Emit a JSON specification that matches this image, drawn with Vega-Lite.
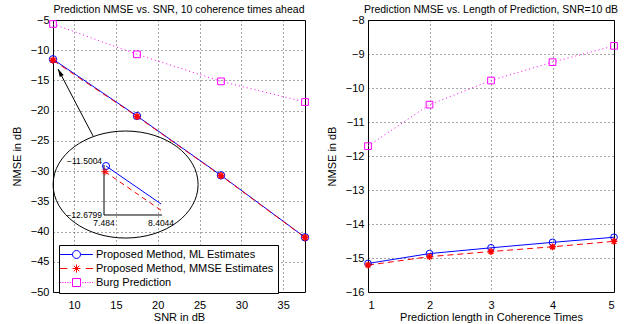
{
  "$schema": "https://vega.github.io/schema/vega-lite/v6.json",
  "padding": {"left": 10, "top": 4, "right": 5, "bottom": 2},
  "spacing": 12,
  "config": {
    "font": "Liberation Sans",
    "view": {"stroke": "black", "strokeWidth": 1},
    "axis": {
      "grid": true, "gridColor": "black", "gridDash": [1, 3], "gridOpacity": 0.7,
      "domain": false, "ticks": false,
      "labelColor": "black", "labelFontSize": 11, "labelPadding": 4,
      "labelExpr": "datum.value < 0 ? '−' + abs(datum.value) : datum.label",
      "titleFontSize": 11, "titleFontWeight": "normal", "titleColor": "black", "titlePadding": 8
    },
    "axisX": {"titlePadding": 1, "labelPadding": 7},
    "title": {"fontSize": 10.5, "fontWeight": "normal", "color": "black", "offset": -1}
  },
  "datasets": {
    "left": [
      {"snr": 7.484, "nmse": -11.5004, "series": "Proposed Method, ML Estimates"},
      {"snr": 17.52, "nmse": -20.88, "series": "Proposed Method, ML Estimates"},
      {"snr": 27.56, "nmse": -30.7, "series": "Proposed Method, ML Estimates"},
      {"snr": 37.6, "nmse": -40.95, "series": "Proposed Method, ML Estimates"},
      {"snr": 7.484, "nmse": -11.67, "series": "Proposed Method, MMSE Estimates"},
      {"snr": 17.52, "nmse": -20.95, "series": "Proposed Method, MMSE Estimates"},
      {"snr": 27.56, "nmse": -30.75, "series": "Proposed Method, MMSE Estimates"},
      {"snr": 37.6, "nmse": -41.0, "series": "Proposed Method, MMSE Estimates"},
      {"snr": 7.484, "nmse": -5.66, "series": "Burg Prediction"},
      {"snr": 17.52, "nmse": -10.68, "series": "Burg Prediction"},
      {"snr": 27.56, "nmse": -15.15, "series": "Burg Prediction"},
      {"snr": 37.6, "nmse": -18.57, "series": "Burg Prediction"}
    ],
    "right": [
      {"len": 1, "nmse": -15.16, "series": "Proposed Method, ML Estimates"},
      {"len": 2, "nmse": -14.87, "series": "Proposed Method, ML Estimates"},
      {"len": 3, "nmse": -14.70, "series": "Proposed Method, ML Estimates"},
      {"len": 4, "nmse": -14.54, "series": "Proposed Method, ML Estimates"},
      {"len": 5, "nmse": -14.39, "series": "Proposed Method, ML Estimates"},
      {"len": 1, "nmse": -15.21, "series": "Proposed Method, MMSE Estimates"},
      {"len": 2, "nmse": -14.96, "series": "Proposed Method, MMSE Estimates"},
      {"len": 3, "nmse": -14.81, "series": "Proposed Method, MMSE Estimates"},
      {"len": 4, "nmse": -14.67, "series": "Proposed Method, MMSE Estimates"},
      {"len": 5, "nmse": -14.51, "series": "Proposed Method, MMSE Estimates"},
      {"len": 1, "nmse": -11.71, "series": "Burg Prediction"},
      {"len": 2, "nmse": -10.49, "series": "Burg Prediction"},
      {"len": 3, "nmse": -9.78, "series": "Burg Prediction"},
      {"len": 4, "nmse": -9.24, "series": "Burg Prediction"},
      {"len": 5, "nmse": -8.76, "series": "Burg Prediction"}
    ],
    "ellipse": [{"x": 16.16, "y": -32.22}],
    "arrow": [{"x": 12.27, "y": -24.19, "x2": 8.08, "y2": -13.1}],
    "insetAxes": [
      {"x": 13.58, "y": -28.99, "x2": 13.58, "y2": -37.26},
      {"x": 13.58, "y": -37.26, "x2": 20.52, "y2": -37.26}
    ],
    "insetML": [{"x": 13.82, "y": -29.16, "x2": 20.40, "y2": -35.44}],
    "insetMMSE": [{"x": 13.70, "y": -30.1, "x2": 20.52, "y2": -36.6}],
    "insetYLab": [
      {"x": 13.35, "y": -28.28, "label": "−11.5004"},
      {"x": 13.35, "y": -37.21, "label": "−12.6799"}
    ],
    "insetXLab": [
      {"x": 13.58, "y": -38.64, "label": "7.484"},
      {"x": 20.40, "y": -38.64, "label": "8.4044"}
    ]
  },
  "resolve": {"scale": {"color": "independent"}},
  "hconcat": [
    {
      "width": 252, "height": 272,
      "title": "Prediction NMSE vs. SNR, 10 coherence times ahead",
      "encoding": {
        "x": {"type": "quantitative", "scale": {"domain": [7.484, 37.6], "nice": false, "zero": false},
              "axis": {"values": [10, 15, 20, 25, 30, 35], "title": "SNR in dB"}},
        "y": {"type": "quantitative", "scale": {"domain": [-50, -5], "nice": false, "zero": false},
              "axis": {"values": [-50, -45, -40, -35, -30, -25, -20, -15, -10, -5], "title": "NMSE in dB"}}
      },
      "layer": [
        {
          "data": {"name": "ellipse"},
          "mark": {"type": "point", "filled": false, "stroke": "black", "strokeWidth": 1, "opacity": 1,
                   "shape": "M-1,0A1,0.738 0 1,0 1,0A1,0.738 0 1,0 -1,0", "size": 21025},
          "encoding": {"x": {"field": "x"}, "y": {"field": "y"}}
        },
        {
          "data": {"name": "arrow"},
          "mark": {"type": "rule", "color": "black", "strokeWidth": 1},
          "encoding": {"x": {"field": "x"}, "y": {"field": "y"}, "x2": {"field": "x2"}, "y2": {"field": "y2"}}
        },
        {
          "data": {"name": "arrow"},
          "mark": {"type": "point", "filled": true, "color": "black", "opacity": 1,
                   "shape": "M0,0L0.45,1.6L-0.45,1.6Z", "size": 100, "angle": 332},
          "encoding": {"x": {"field": "x2"}, "y": {"field": "y2"}}
        },
        {
          "data": {"name": "insetAxes"},
          "mark": {"type": "rule", "color": "black", "strokeWidth": 1},
          "encoding": {"x": {"field": "x"}, "y": {"field": "y"}, "x2": {"field": "x2"}, "y2": {"field": "y2"}}
        },
        {
          "data": {"name": "insetML"},
          "mark": {"type": "rule", "color": "#0000ff", "strokeWidth": 1},
          "encoding": {"x": {"field": "x"}, "y": {"field": "y"}, "x2": {"field": "x2"}, "y2": {"field": "y2"}}
        },
        {
          "data": {"name": "insetMMSE"},
          "mark": {"type": "rule", "color": "#ff0000", "strokeWidth": 1, "strokeDash": [5, 4]},
          "encoding": {"x": {"field": "x"}, "y": {"field": "y"}, "x2": {"field": "x2"}, "y2": {"field": "y2"}}
        },
        {
          "data": {"name": "insetML"},
          "mark": {"type": "point", "filled": false, "stroke": "#0000ff", "strokeWidth": 1, "opacity": 1, "size": 50, "shape": "circle"},
          "encoding": {"x": {"field": "x"}, "y": {"field": "y"}}
        },
        {
          "data": {"name": "insetMMSE"},
          "mark": {"type": "point", "filled": false, "stroke": "#ff0000", "strokeWidth": 1, "opacity": 1, "size": 50,
                   "shape": "M-1,0L1,0M0,-1L0,1M-0.7,-0.7L0.7,0.7M-0.7,0.7L0.7,-0.7"},
          "encoding": {"x": {"field": "x"}, "y": {"field": "y"}}
        },
        {
          "data": {"name": "insetYLab"},
          "mark": {"type": "text", "align": "right", "baseline": "middle", "fontSize": 8.5, "color": "black"},
          "encoding": {"x": {"field": "x"}, "y": {"field": "y"}, "text": {"field": "label"}}
        },
        {
          "data": {"name": "insetXLab"},
          "mark": {"type": "text", "align": "center", "baseline": "middle", "fontSize": 8.5, "color": "black"},
          "encoding": {"x": {"field": "x"}, "y": {"field": "y"}, "text": {"field": "label"}}
        },
        {
          "data": {"name": "left"},
          "transform": [{"filter": "datum.series == 'Proposed Method, ML Estimates'"}],
          "mark": {"type": "line", "strokeWidth": 1},
          "encoding": {
            "x": {"field": "snr"}, "y": {"field": "nmse"},
            "color": {"field": "series", "type": "nominal",
              "scale": {"domain": ["Proposed Method, ML Estimates", "Proposed Method, MMSE Estimates", "Burg Prediction"], "range": ["#0000ff", "#ff0000", "#ff00ff"]},
              "legend": {
                "title": null, "orient": "none", "legendX": 6, "legendY": 225,
                "strokeColor": "black", "fillColor": "white", "padding": 4,
                "labelFontSize": 11, "labelColor": "black", "labelLimit": 300,
                "symbolSize": 64, "symbolOffset": 8, "labelOffset": 14, "rowPadding": 1,
                "symbolStrokeWidth": 1, "symbolType": "circle",
                "encode": {"symbols": {"update": {
                  "shape": {"signal": "datum.index == 0 ? 'M-4.1,0L-1,0M1,0L4.1,0M1,0A1,1 0 1,1 -1,0A1,1 0 1,1 1,0' : datum.index == 1 ? 'M-4.1,0L-2.3,0M2.3,0L4.1,0M-1,0L1,0M0,-1L0,1M-0.7,-0.7L0.7,0.7M-0.7,0.7L0.7,-0.7' : 'M-4.1,0h0.25M-3.5,0h0.25M-2.9,0h0.25M-2.3,0h0.25M-1.7,0h0.25M1.5,0h0.25M2.1,0h0.25M2.7,0h0.25M3.3,0h0.25M3.9,0h0.25M-1,-1h2v2h-2z'"},
                  "fill": {"value": "transparent"},
                  "strokeDash": {"value": []},
                  "opacity": {"value": 1}
                }}}
              }}
          }
        },
        {
          "data": {"name": "left"},
          "transform": [{"filter": "datum.series == 'Proposed Method, MMSE Estimates'"}],
          "mark": {"type": "line", "strokeWidth": 1, "color": "#ff0000", "strokeDash": [6, 4]},
          "encoding": {"x": {"field": "snr"}, "y": {"field": "nmse"}}
        },
        {
          "data": {"name": "left"},
          "transform": [{"filter": "datum.series == 'Burg Prediction'"}],
          "mark": {"type": "line", "strokeWidth": 1, "color": "#ff00ff", "strokeDash": [1, 3]},
          "encoding": {"x": {"field": "snr"}, "y": {"field": "nmse"}}
        },
        {
          "data": {"name": "left"},
          "transform": [{"filter": "datum.series == 'Proposed Method, ML Estimates'"}],
          "mark": {"type": "point", "filled": false, "stroke": "#0000ff", "strokeWidth": 1, "opacity": 1, "size": 55, "shape": "circle"},
          "encoding": {"x": {"field": "snr"}, "y": {"field": "nmse"}}
        },
        {
          "data": {"name": "left"},
          "transform": [{"filter": "datum.series == 'Proposed Method, MMSE Estimates'"}],
          "mark": {"type": "point", "filled": false, "stroke": "#ff0000", "strokeWidth": 1.5, "opacity": 1, "size": 50,
                   "shape": "M-1,0L1,0M0,-1L0,1M-0.7,-0.7L0.7,0.7M-0.7,0.7L0.7,-0.7"},
          "encoding": {"x": {"field": "snr"}, "y": {"field": "nmse"}}
        },
        {
          "data": {"name": "left"},
          "transform": [{"filter": "datum.series == 'Burg Prediction'"}],
          "mark": {"type": "point", "filled": false, "stroke": "#ff00ff", "strokeWidth": 1, "opacity": 1, "size": 45, "shape": "square"},
          "encoding": {"x": {"field": "snr"}, "y": {"field": "nmse"}}
        }
      ]
    },
    {
      "width": 246, "height": 272,
      "title": "Prediction NMSE vs. Length of Prediction, SNR=10 dB",
      "data": {"name": "right"},
      "encoding": {
        "x": {"field": "len", "type": "quantitative", "scale": {"domain": [1, 5], "nice": false, "zero": false},
              "axis": {"values": [1, 2, 3, 4, 5], "title": "Prediction length in Coherence Times"}},
        "y": {"field": "nmse", "type": "quantitative", "scale": {"domain": [-16, -8], "nice": false, "zero": false},
              "axis": {"values": [-16, -15, -14, -13, -12, -11, -10, -9, -8], "title": "NMSE in dB"}}
      },
      "layer": [
        {
          "transform": [{"filter": "datum.series == 'Proposed Method, ML Estimates'"}],
          "mark": {"type": "line", "strokeWidth": 1, "color": "#0000ff"},
          "encoding": {}
        },
        {
          "transform": [{"filter": "datum.series == 'Proposed Method, MMSE Estimates'"}],
          "mark": {"type": "line", "strokeWidth": 1, "color": "#ff0000", "strokeDash": [6, 4]},
          "encoding": {}
        },
        {
          "transform": [{"filter": "datum.series == 'Burg Prediction'"}],
          "mark": {"type": "line", "strokeWidth": 1, "color": "#ff00ff", "strokeDash": [1, 3]},
          "encoding": {}
        },
        {
          "transform": [{"filter": "datum.series == 'Proposed Method, ML Estimates'"}],
          "mark": {"type": "point", "filled": false, "stroke": "#0000ff", "strokeWidth": 1, "opacity": 1, "size": 45, "shape": "circle"},
          "encoding": {}
        },
        {
          "transform": [{"filter": "datum.series == 'Proposed Method, MMSE Estimates'"}],
          "mark": {"type": "point", "filled": false, "stroke": "#ff0000", "strokeWidth": 1.5, "opacity": 1, "size": 45,
                   "shape": "M-1,0L1,0M0,-1L0,1M-0.7,-0.7L0.7,0.7M-0.7,0.7L0.7,-0.7"},
          "encoding": {}
        },
        {
          "transform": [{"filter": "datum.series == 'Burg Prediction'"}],
          "mark": {"type": "point", "filled": false, "stroke": "#ff00ff", "strokeWidth": 1, "opacity": 1, "size": 45, "shape": "square"},
          "encoding": {}
        }
      ]
    }
  ]
}
